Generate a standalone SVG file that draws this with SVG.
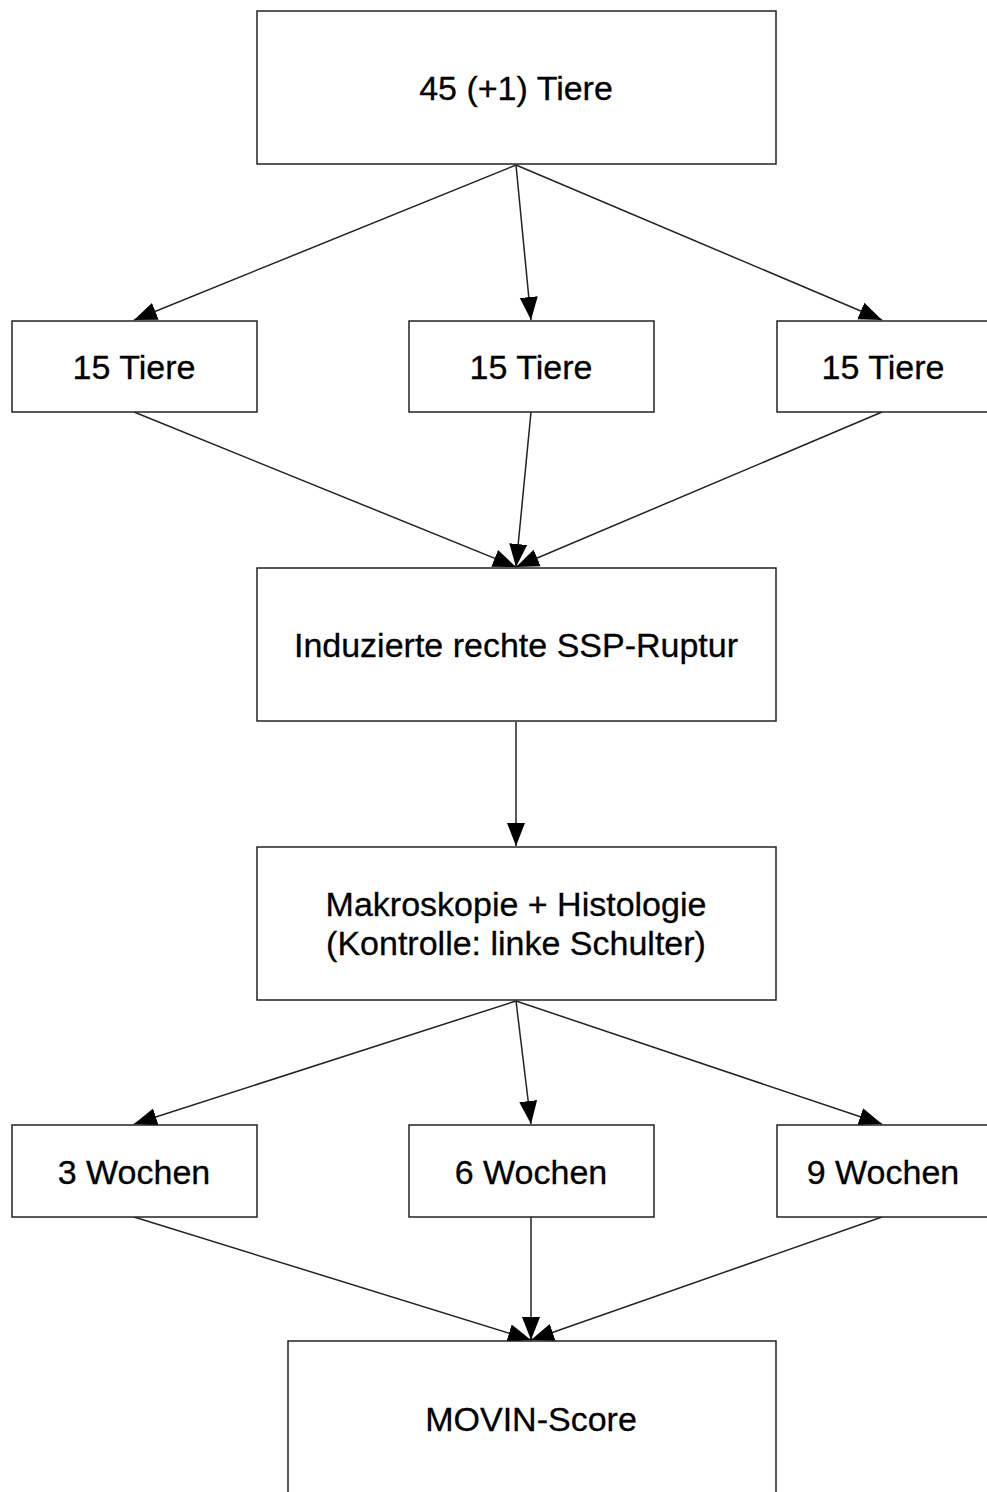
<svg xmlns="http://www.w3.org/2000/svg" width="987" height="1492" viewBox="0 0 987 1492">
<style>
.box{fill:#fff;stroke:#222;stroke-width:1.5}
.t{font-family:"Liberation Sans",Arial,sans-serif;font-size:34px;fill:#000;text-anchor:middle;stroke:#000;stroke-width:0.3}
.c{stroke:#222;stroke-width:1.5;fill:none;marker-end:url(#ah)}
</style>
<defs>
<marker id="ah" markerUnits="userSpaceOnUse" markerWidth="24" markerHeight="20" refX="23" refY="10" orient="auto" viewBox="0 0 24 20">
<path d="M0,1 L23,10 L0,19 z" fill="#000"/>
</marker>
</defs>
<rect width="987" height="1492" fill="#fff"/>
<g id="connectors">
<line class="c" x1="516" y1="165" x2="134" y2="320"/>
<line class="c" x1="516" y1="165" x2="531" y2="320"/>
<line class="c" x1="516" y1="165" x2="882" y2="320"/>
<line class="c" x1="134" y1="412" x2="516" y2="567"/>
<line class="c" x1="531" y1="412" x2="516" y2="567"/>
<line class="c" x1="882" y1="412" x2="516" y2="567"/>
<line class="c" x1="516" y1="722" x2="516" y2="846"/>
<line class="c" x1="516" y1="1001" x2="134" y2="1124"/>
<line class="c" x1="516" y1="1001" x2="531" y2="1124"/>
<line class="c" x1="516" y1="1001" x2="882" y2="1124"/>
<line class="c" x1="134" y1="1217" x2="531" y2="1340"/>
<line class="c" x1="531" y1="1217" x2="531" y2="1340"/>
<line class="c" x1="882" y1="1217" x2="531" y2="1340"/>
</g>
<g id="n-top"><rect class="box" x="257" y="11" width="519" height="153"/><text class="t" x="516" y="100">45 (+1) Tiere</text></g>
<g id="n-g1"><rect class="box" x="12" y="321" width="245" height="91"/><text class="t" x="134" y="379">15 Tiere</text></g>
<g id="n-g2"><rect class="box" x="409" y="321" width="245" height="91"/><text class="t" x="531" y="379">15 Tiere</text></g>
<g id="n-g3"><rect class="box" x="777" y="321" width="245" height="91"/><text class="t" x="883" y="379">15 Tiere</text></g>
<g id="n-ruptur"><rect class="box" x="257" y="568" width="519" height="153"/><text class="t" x="516" y="657">Induzierte rechte SSP-Ruptur</text></g>
<g id="n-histo"><rect class="box" x="257" y="847" width="519" height="153"/><text class="t" x="516" y="916">Makroskopie + Histologie</text><text class="t" x="516" y="955">(Kontrolle: linke Schulter)</text></g>
<g id="n-w3"><rect class="box" x="12" y="1125" width="245" height="92"/><text class="t" x="134" y="1184">3 Wochen</text></g>
<g id="n-w6"><rect class="box" x="409" y="1125" width="245" height="92"/><text class="t" x="531" y="1184">6 Wochen</text></g>
<g id="n-w9"><rect class="box" x="777" y="1125" width="245" height="92"/><text class="t" x="883" y="1184">9 Wochen</text></g>
<g id="n-movin"><rect class="box" x="288" y="1341" width="488" height="170"/><text class="t" x="531" y="1431">MOVIN-Score</text></g>
</svg>
